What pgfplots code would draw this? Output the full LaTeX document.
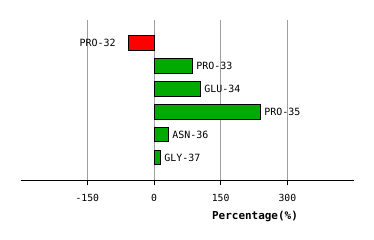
\documentclass[border=0pt]{standalone}
\usepackage{fontspec}
\setmonofont{DejaVu Sans Mono}
\usepackage{pgfplots}
\pgfplotsset{compat=1.18}
\definecolor{barred}{RGB}{255,0,0}
\definecolor{bargreen}{RGB}{0,170,0}
\begin{document}
\begin{tikzpicture}
\useasboundingbox (0,0) rectangle (374bp,240bp);
\begin{axis}[
  at={(20.7bp,59.7bp)}, anchor=south west,
  scale only axis, width=333.3bp, height=160bp,
  xmin=-300, xmax=450, ymin=0, ymax=7, y dir=reverse,
  axis x line*=bottom, axis y line=none,
  xtick={-150,0,150,300}, ytick=\empty,
  xmajorgrids, grid style={gray!75, line width=0.8bp},
  x axis line style={line width=0.9bp, black},
  tick style={black, line width=0.8bp},
  tick align=outside, major tick length=5bp,
  /pgf/number format/assume math mode=true,
  tick label style={font=\ttfamily\fontsize{9.8}{10}\selectfont},
  xticklabel style={yshift=-5.5bp},
  xlabel={\textbf{Percentage(\%)}},
  xlabel style={font=\ttfamily\fontsize{11}{12}\selectfont, at={(axis description cs:0.703,0)}, anchor=north, yshift=-27bp},
  xbar, bar shift=0pt, bar width=14.5bp,
  point meta=explicit symbolic,
  nodes near coords,
  every node near coord/.append style={font=\ttfamily\fontsize{10}{11}\selectfont, black},
]
\addplot[draw=black, line width=0.9bp, fill=barred,
  every node near coord/.append style={anchor=east, inner sep=0pt, xshift=-12bp}]
  table[meta=label] {
x y label
-58.5 1 PRO-32
};
\addplot[draw=black, line width=0.9bp, fill=bargreen,
  every node near coord/.append style={anchor=west, inner sep=0pt, xshift=4bp}]
  table[meta=label] {
x y label
85.5 2 PRO-33
103.5 3 GLU-34
238.5 4 PRO-35
31.5 5 ASN-36
13.5 6 GLY-37
};
\end{axis}
\end{tikzpicture}
\end{document}
